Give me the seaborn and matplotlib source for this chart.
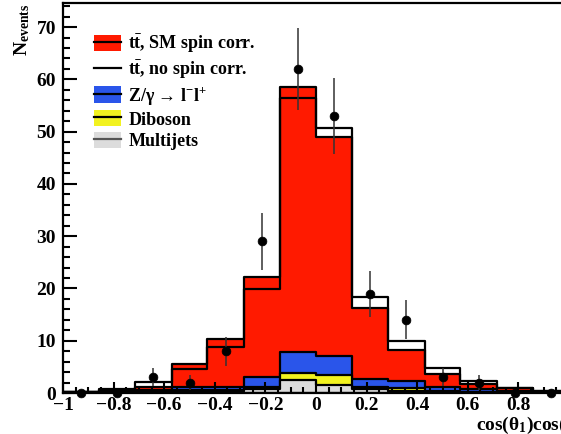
import numpy as np
import pandas as pd
import matplotlib
matplotlib.use("Agg")
import matplotlib.pyplot as plt
import seaborn as sns
from matplotlib.patches import Patch
from matplotlib.lines import Line2D
from matplotlib.ticker import MultipleLocator, FuncFormatter

# ---- data ----
bin_edges = [-1.0, -0.857, -0.714, -0.571, -0.429, -0.286, -0.143, 0.0,
             0.143, 0.286, 0.429, 0.571, 0.714, 0.857, 1.0]
multijets = [0.05, 0.1, 0.2, 0.3, 0.3, 0.7, 2.5, 1.5, 0.7, 0.4, 0.2, 0.1, 0.05, 0.05]
diboson   = [0.05, 0.1, 0.1, 0.2, 0.3, 0.4, 1.3, 1.9, 0.4, 0.5, 0.2, 0.1, 0.05, 0.05]
zgamma    = [0.05, 0.1, 0.2, 0.6, 0.5, 1.9, 4.0, 3.7, 1.6, 1.4, 0.7, 0.6, 0.3, 0.1]
tt_sm     = [0.05, 0.3, 0.7, 4.4, 9.2, 19.2, 50.7, 41.9, 13.6, 5.9, 2.5, 0.9, 0.5, 0.1]
tt_nospin = [0.05, 0.4, 1.6, 3.5, 7.7, 16.9, 48.6, 43.6, 15.7, 7.7, 3.6, 1.5, 0.6, 0.1]
data      = [0, 0, 3, 2, 8, 29, 62, 53, 19, 14, 3, 2, 0, 0]
data_err  = [0, 0, 1.7, 1.4, 2.8, 5.4, 7.9, 7.3, 4.4, 3.7, 1.7, 1.4, 0, 0]

labels = [r"t$\bar{\rm t}$, SM spin corr.", r"t$\bar{\rm t}$, no spin corr.",
          r"Z/γ → l$^{-}$l$^{+}$", "Diboson", "Multijets"]

# ---- style ----
plt.rcParams['font.family'] = ['Liberation Serif', 'DejaVu Serif']
plt.rcParams['font.weight'] = 'bold'
plt.rcParams['mathtext.fontset'] = 'custom'
plt.rcParams['mathtext.rm'] = 'Liberation Serif:bold'
plt.rcParams['mathtext.it'] = 'Liberation Serif:bold:italic'
plt.rcParams['mathtext.bf'] = 'Liberation Serif:bold'

RED = "#ff1a00"
BLUE = "#2a55ea"
YELLOW = "#f2f220"
GREY = "#dcdcdc"

edges = np.array(bin_edges)
centers = 0.5 * (edges[:-1] + edges[1:])
mj = np.array(multijets)
db = np.array(diboson)
zg = np.array(zgamma)
c_mj = mj
c_db = c_mj + db
c_zg = c_db + zg
c_sm = c_zg + np.array(tt_sm)
c_ns = c_zg + np.array(tt_nospin)

fig = plt.figure(figsize=(5.61, 4.34), dpi=100)
ax = fig.add_axes([63/561, 41/434, 506/561, 390/434])

lw = 1.6
for vals, col in [(c_sm, RED), (c_zg, BLUE), (c_db, YELLOW), (c_mj, GREY)]:
    df = pd.DataFrame({"x": centers, "w": vals})
    sns.histplot(data=df, x="x", weights="w", bins=list(bin_edges), element="step",
                 fill=True, color=col, alpha=1, edgecolor="black",
                 linewidth=lw, ax=ax)
df = pd.DataFrame({"x": centers, "w": c_ns})
sns.histplot(data=df, x="x", weights="w", bins=list(bin_edges), element="step",
             fill=False, color="black", linewidth=lw, ax=ax)

# data points
d = np.array(data, dtype=float)
e = np.array(data_err, dtype=float)
mask = e > 0
ax.errorbar(centers[mask], d[mask], yerr=e[mask], fmt='none',
            ecolor="#333333", elinewidth=1.1, capsize=0, zorder=5)
sns.scatterplot(x=centers, y=d, color="black", s=40, edgecolor="black",
                zorder=6, ax=ax, clip_on=False)

ax.set_xlim(-1, 1)
ax.set_ylim(0, 74.6)
ax.set_xlabel("")
ax.set_ylabel("")

ax.xaxis.set_major_locator(MultipleLocator(0.2))
ax.xaxis.set_minor_locator(MultipleLocator(0.05))
ax.yaxis.set_major_locator(MultipleLocator(10))
ax.yaxis.set_minor_locator(MultipleLocator(2))

def fmt(v, pos):
    if v > 0.95:
        return ""
    s = f"{v:.1f}".rstrip('0').rstrip('.')
    if s in ("-0", "0"):
        return "0"
    return s.replace('-', '\u2212')

ax.xaxis.set_major_formatter(FuncFormatter(fmt))
ax.yaxis.set_major_formatter(FuncFormatter(lambda v, p: f"{int(round(v))}"))

ax.tick_params(axis='both', which='both', direction='in', top=False, right=False,
               labelsize=14, width=1.5)
ax.tick_params(axis='y', which='major', length=10, pad=5)
ax.tick_params(axis='y', which='minor', length=5)
ax.tick_params(axis='x', which='major', length=8, pad=3)
ax.tick_params(axis='x', which='minor', length=4)
for lab in ax.get_xticklabels() + ax.get_yticklabels():
    lab.set_fontweight('bold')
for sp in ax.spines.values():
    sp.set_linewidth(1.6)

# axis titles
fig.text(476/561, 1 - 430/434, r"cos(θ$_{1}$)cos(θ$_{2}$)", fontsize=14,
         fontweight='bold', ha='left', va='baseline')
fig.text(22/561, 1 - 4/434, r"N$_{\rm events}$", fontsize=14, fontweight='bold',
         rotation=90, ha='center', va='top')

# legend
handles = [
    (Patch(facecolor=RED, edgecolor='none'), Line2D([], [], color='black', lw=lw)),
    Line2D([], [], color='black', lw=lw),
    (Patch(facecolor=BLUE, edgecolor='none'), Line2D([], [], color='black', lw=lw)),
    (Patch(facecolor=YELLOW, edgecolor='none'), Line2D([], [], color='black', lw=lw)),
    (Patch(facecolor=GREY, edgecolor='none'), Line2D([], [], color='#555555', lw=lw)),
]
leg = ax.legend(handles, labels, loc='upper left', bbox_to_anchor=(0.061, 0.923),
                frameon=False, fontsize=13, borderpad=0, borderaxespad=0,
                handlelength=1.5, handleheight=1.0, handletextpad=0.4,
                labelspacing=0.2)
for t in leg.get_texts():
    t.set_fontweight('bold')

fig.savefig("out.png", dpi=100)
